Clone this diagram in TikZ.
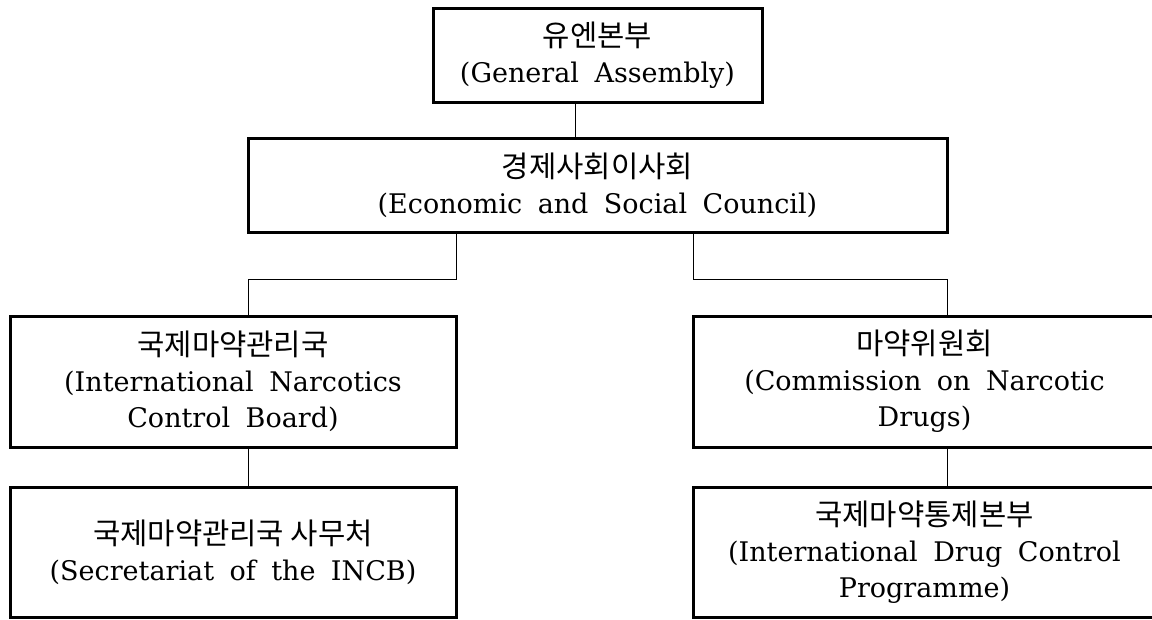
\documentclass[tikz,border=0pt]{standalone}
\usepackage{fontspec}
\setmainfont[WordSpace=1.8]{DejaVu Serif}
\newfontfamily\kr[Scale=1.1]{Noto Sans CJK KR}
\usepackage{tikz}
\usetikzlibrary{positioning}

\begin{document}
\begin{tikzpicture}[x=1pt, y=-1pt,
        box/.style = {rectangle, draw, line width=3pt, align=center, inner sep=0pt, font=\fontsize{27}{36}\selectfont},
        link/.style = {draw, line width=1pt}]
        \useasboundingbox [fill=white] (0,0) rectangle (1152,619);
        \node (ga) at (597.5,55) [box, minimum width=329pt, minimum height=94pt] {{\kr 유엔본부}\\(General Assembly)};
        \node (ecosoc) at (597.5,185) [box, minimum width=699pt, minimum height=94pt] {{\kr 경제사회이사회}\\(Economic and Social Council)};
        \node (incb) at (233,381.5) [box, minimum width=446pt, minimum height=131pt] {{\kr 국제마약관리국}\\(International Narcotics\\Control Board)};
        \node (cnd) at (924.5,381.5) [box, minimum width=463pt, minimum height=131pt] {{\kr 마약위원회}\\(Commission on Narcotic\\Drugs)};
        \node (sec) at (233,552) [box, minimum width=446pt, minimum height=130pt] {{\kr 국제마약관리국 사무처}\\(Secretariat of the INCB)};
        \node (undcp) at (924.5,552) [box, minimum width=463pt, minimum height=130pt] {{\kr 국제마약통제본부}\\(International Drug Control\\Programme)};
        % connectors
        \path [link] ([xshift=-22.5pt]ga.south) -- ([xshift=-22.5pt]ecosoc.north);
        \path [link] ([xshift=-141.5pt]ecosoc.south) -- ++(0,46) -| ([xshift=15pt]incb.north);
        \path [link] ([xshift=95.5pt]ecosoc.south) -- ++(0,46) -| ([xshift=22.5pt]cnd.north);
        \path [link] ([xshift=15pt]incb.south) -- ([xshift=15pt]sec.north);
        \path [link] ([xshift=22.5pt]cnd.south) -- ([xshift=22.5pt]undcp.north);
\end{tikzpicture}
\end{document}
